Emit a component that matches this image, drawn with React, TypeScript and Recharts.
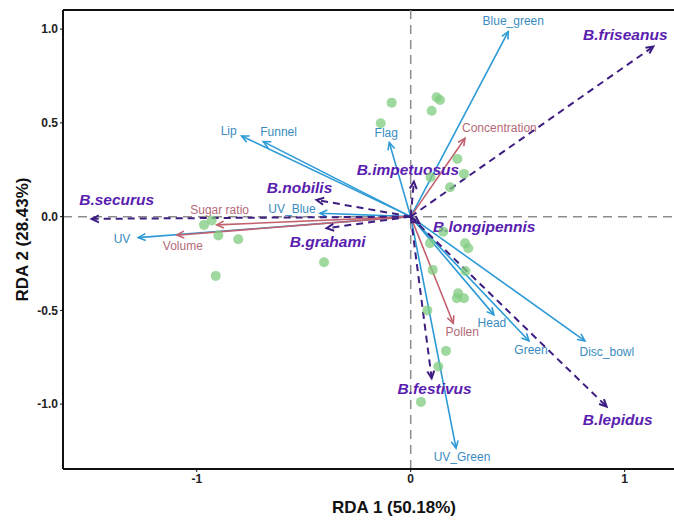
import React from "react";
import {
  ScatterChart,
  Scatter,
  XAxis,
  YAxis,
  ReferenceLine,
} from "recharts";

// species response vectors (dashed)
const speciesNames = [
  "B.friseanus",
  "B.impetuosus",
  "B.nobilis",
  "B.securus",
  "B.grahami",
  "B.longipennis",
  "B.festivus",
  "B.lepidus",
];
const speciesX = [1.134, 0.015, -0.44, -1.491, -0.393, 0.04, 0.098, 0.916];
const speciesY = [0.907, 0.187, 0.089, -0.012, -0.062, -0.035, -0.862, -1.013];

// floral colour / morphology vectors (blue)
const floralNames = [
  "Blue_green",
  "Flag",
  "Lip",
  "Funnel",
  "UV_Blue",
  "UV",
  "Head",
  "Green",
  "Disc_bowl",
  "UV_Green",
];
const floralX = [0.456, -0.1, -0.79, -0.689, -0.424, -1.273, 0.389, 0.553, 0.814, 0.212];
const floralY = [0.987, 0.395, 0.43, 0.4, 0.018, -0.112, -0.524, -0.663, -0.663, -1.235];

// reward vectors (red)
const rewardNames = ["Concentration", "Sugar ratio", "Volume", "Pollen"];
const rewardX = [0.254, -0.907, -1.093, 0.199];
const rewardY = [0.418, -0.044, -0.099, -0.569];

// site scores
const siteX = [
  -0.089, 0.121, 0.137, 0.098, -0.14, 0.218, 0.249, 0.184, 0.093, 0.152, 0.09, 0.254, 0.269,
  0.103, 0.256, 0.222, 0.249, 0.216, 0.078, 0.165, 0.129, 0.048, -0.966, -0.93, -0.899,
  -0.806, -0.405, -0.911,
];
const siteY = [
  0.608, 0.637, 0.622, 0.565, 0.498, 0.308, 0.228, 0.157, 0.21, -0.08, -0.142, -0.142, -0.169,
  -0.284, -0.29, -0.409, -0.435, -0.435, -0.5, -0.716, -0.799, -0.988, -0.044, -0.021, -0.101,
  -0.121, -0.243, -0.316,
];

const xTicks = [-1, 0, 1];
const yTicks = [-1, -0.5, 0, 0.5, 1];

const FONT = "'Liberation Sans', Arial, sans-serif";
const BLUE = "#2c9ad6";
const BLUE_TXT = "#3a8cc0";
const RED = "#c2626f";
const RED_TXT = "#b36a78";
const PURPLE = "#3e1e82";
const PURPLE_TXT = "#5a1db0";

// label placement relative to arrow tip: dx, dy, anchor
const labelPos: Record<string, [number, number, string]> = {
  Blue_green: [5, -11, "middle"],
  Flag: [-3, -10, "middle"],
  Lip: [-5, -5, "end"],
  Funnel: [-3, -10, "start"],
  UV_Blue: [-28, -4, "middle"],
  UV: [-8, 1, "end"],
  Head: [-2, 8, "middle"],
  Green: [2, 9, "middle"],
  Disc_bowl: [22, 11, "middle"],
  UV_Green: [6, 9, "middle"],
  Concentration: [-3, -10, "start"],
  "Sugar ratio": [3, -15, "middle"],
  Volume: [6, 11, "middle"],
  Pollen: [9, 9, "middle"],
  "B.friseanus": [-28, -12, "middle"],
  "B.impetuosus": [-6, -12, "middle"],
  "B.nobilis": [-17, -12, "middle"],
  "B.securus": [25, -19, "middle"],
  "B.grahami": [1, 13, "middle"],
  "B.longipennis": [65, 3, "middle"],
  "B.festivus": [3, 10, "middle"],
  "B.lepidus": [11, 13, "middle"],
};

const sites = siteX.map((x, i) => ({ x, y: siteY[i] }));

type Vec = { name: string; x: number; y: number; kind: "species" | "floral" | "reward" };
const vectors: Vec[] = [
  ...floralNames.map((name, i) => ({ name, x: floralX[i], y: floralY[i], kind: "floral" as const })),
  ...rewardNames.map((name, i) => ({ name, x: rewardX[i], y: rewardY[i], kind: "reward" as const })),
  ...speciesNames.map((name, i) => ({ name, x: speciesX[i], y: speciesY[i], kind: "species" as const })),
];

function arrowShape(v: Vec) {
  const species = v.kind === "species";
  const line = species ? PURPLE : v.kind === "floral" ? BLUE : RED;
  const txt = species ? PURPLE_TXT : v.kind === "floral" ? BLUE_TXT : RED_TXT;
  const [dx, dy, anchor] = labelPos[v.name] || [0, 0, "middle"];
  return (p: any) => {
    const { x1, y1, x2, y2 } = p;
    if (x1 == null || x2 == null) return <g />;
    const a = Math.atan2(y2 - y1, x2 - x1);
    const L = 8;
    const s = 0.45;
    const h1x = x2 - L * Math.cos(a - s);
    const h1y = y2 - L * Math.sin(a - s);
    const h2x = x2 - L * Math.cos(a + s);
    const h2y = y2 - L * Math.sin(a + s);
    return (
      <g>
        <line
          x1={x1}
          y1={y1}
          x2={x2}
          y2={y2}
          stroke={line}
          strokeWidth={species ? 2 : 1.6}
          strokeDasharray={species ? "7 5" : undefined}
        />
        <path
          d={`M${h1x},${h1y}L${x2},${y2}L${h2x},${h2y}`}
          fill="none"
          stroke={line}
          strokeWidth={species ? 2 : 1.6}
        />
        <text
          x={x2 + dx}
          y={y2 + dy}
          textAnchor={anchor as any}
          dominantBaseline="central"
          fontFamily={FONT}
          fontSize={species ? 15.5 : 12}
          fontWeight={species ? "bold" : "normal"}
          fontStyle={species ? "italic" : "normal"}
          fill={txt}
        >
          {v.name}
        </text>
      </g>
    );
  };
}

const YLabel = (props: any) => {
  const vb = props.viewBox || {};
  const cx = 22;
  const cy = vb.height ? vb.y + vb.height / 2 : 240;
  return (
    <text
      x={cx}
      y={cy}
      transform={`rotate(-90, ${cx}, ${cy})`}
      textAnchor="middle"
      dominantBaseline="central"
      fontFamily={FONT}
      fontSize={17}
      fontWeight="bold"
      fill="#111"
    >
      RDA 2 (28.43%)
    </text>
  );
};

const tickStyle = { fontFamily: FONT, fontSize: 12, fontWeight: "bold", fill: "#222" };

export default function App() {
  return (
    <div style={{ position: "absolute", left: 0, top: 0, width: 674, height: 525, overflow: "hidden", background: "#fff" }}>
      <ScatterChart width={730} height={525} margin={{ top: 10, right: 5, left: 8, bottom: 0 }}>
        <XAxis
          type="number"
          dataKey="x"
          domain={[-1.625, 1.469]}
          allowDataOverflow
          ticks={xTicks}
          tickFormatter={(v: number) => String(v)}
          tick={tickStyle}
          tickSize={3}
          height={56}
          axisLine={{ stroke: "#111", strokeWidth: 2 }}
          tickLine={{ stroke: "#111" }}
          label={{
            value: "RDA 1 (50.18%)",
            position: "insideBottom",
            offset: 12,
            style: { fontFamily: FONT, fontSize: 17, fontWeight: "bold", fill: "#111" },
          }}
        />
        <YAxis
          type="number"
          dataKey="y"
          domain={[-1.346, 1.102]}
          allowDataOverflow
          ticks={yTicks}
          tickFormatter={(v: number) => v.toFixed(1)}
          tick={tickStyle}
          tickSize={3}
          width={55}
          axisLine={{ stroke: "#111", strokeWidth: 2 }}
          tickLine={{ stroke: "#111" }}
          label={<YLabel />}
        />
        <ReferenceLine y={1.102} stroke="#111" strokeWidth={2} />
        <ReferenceLine x={0} stroke="#8c8c8c" strokeWidth={1.5} strokeDasharray="9 6" />
        <ReferenceLine y={0} stroke="#8c8c8c" strokeWidth={1.5} strokeDasharray="9 6" />
        <Scatter
          data={sites}
          isAnimationActive={false}
          shape={(p: any) => (
            <circle cx={p.cx} cy={p.cy} r={5} fill="#7fcc7f" fillOpacity={0.75} />
          )}
        />
        {vectors.map((v) => (
          <ReferenceLine
            key={v.name}
            segment={[
              { x: 0, y: 0 },
              { x: v.x, y: v.y },
            ]}
            shape={arrowShape(v)}
          />
        ))}
      </ScatterChart>
    </div>
  );
}
